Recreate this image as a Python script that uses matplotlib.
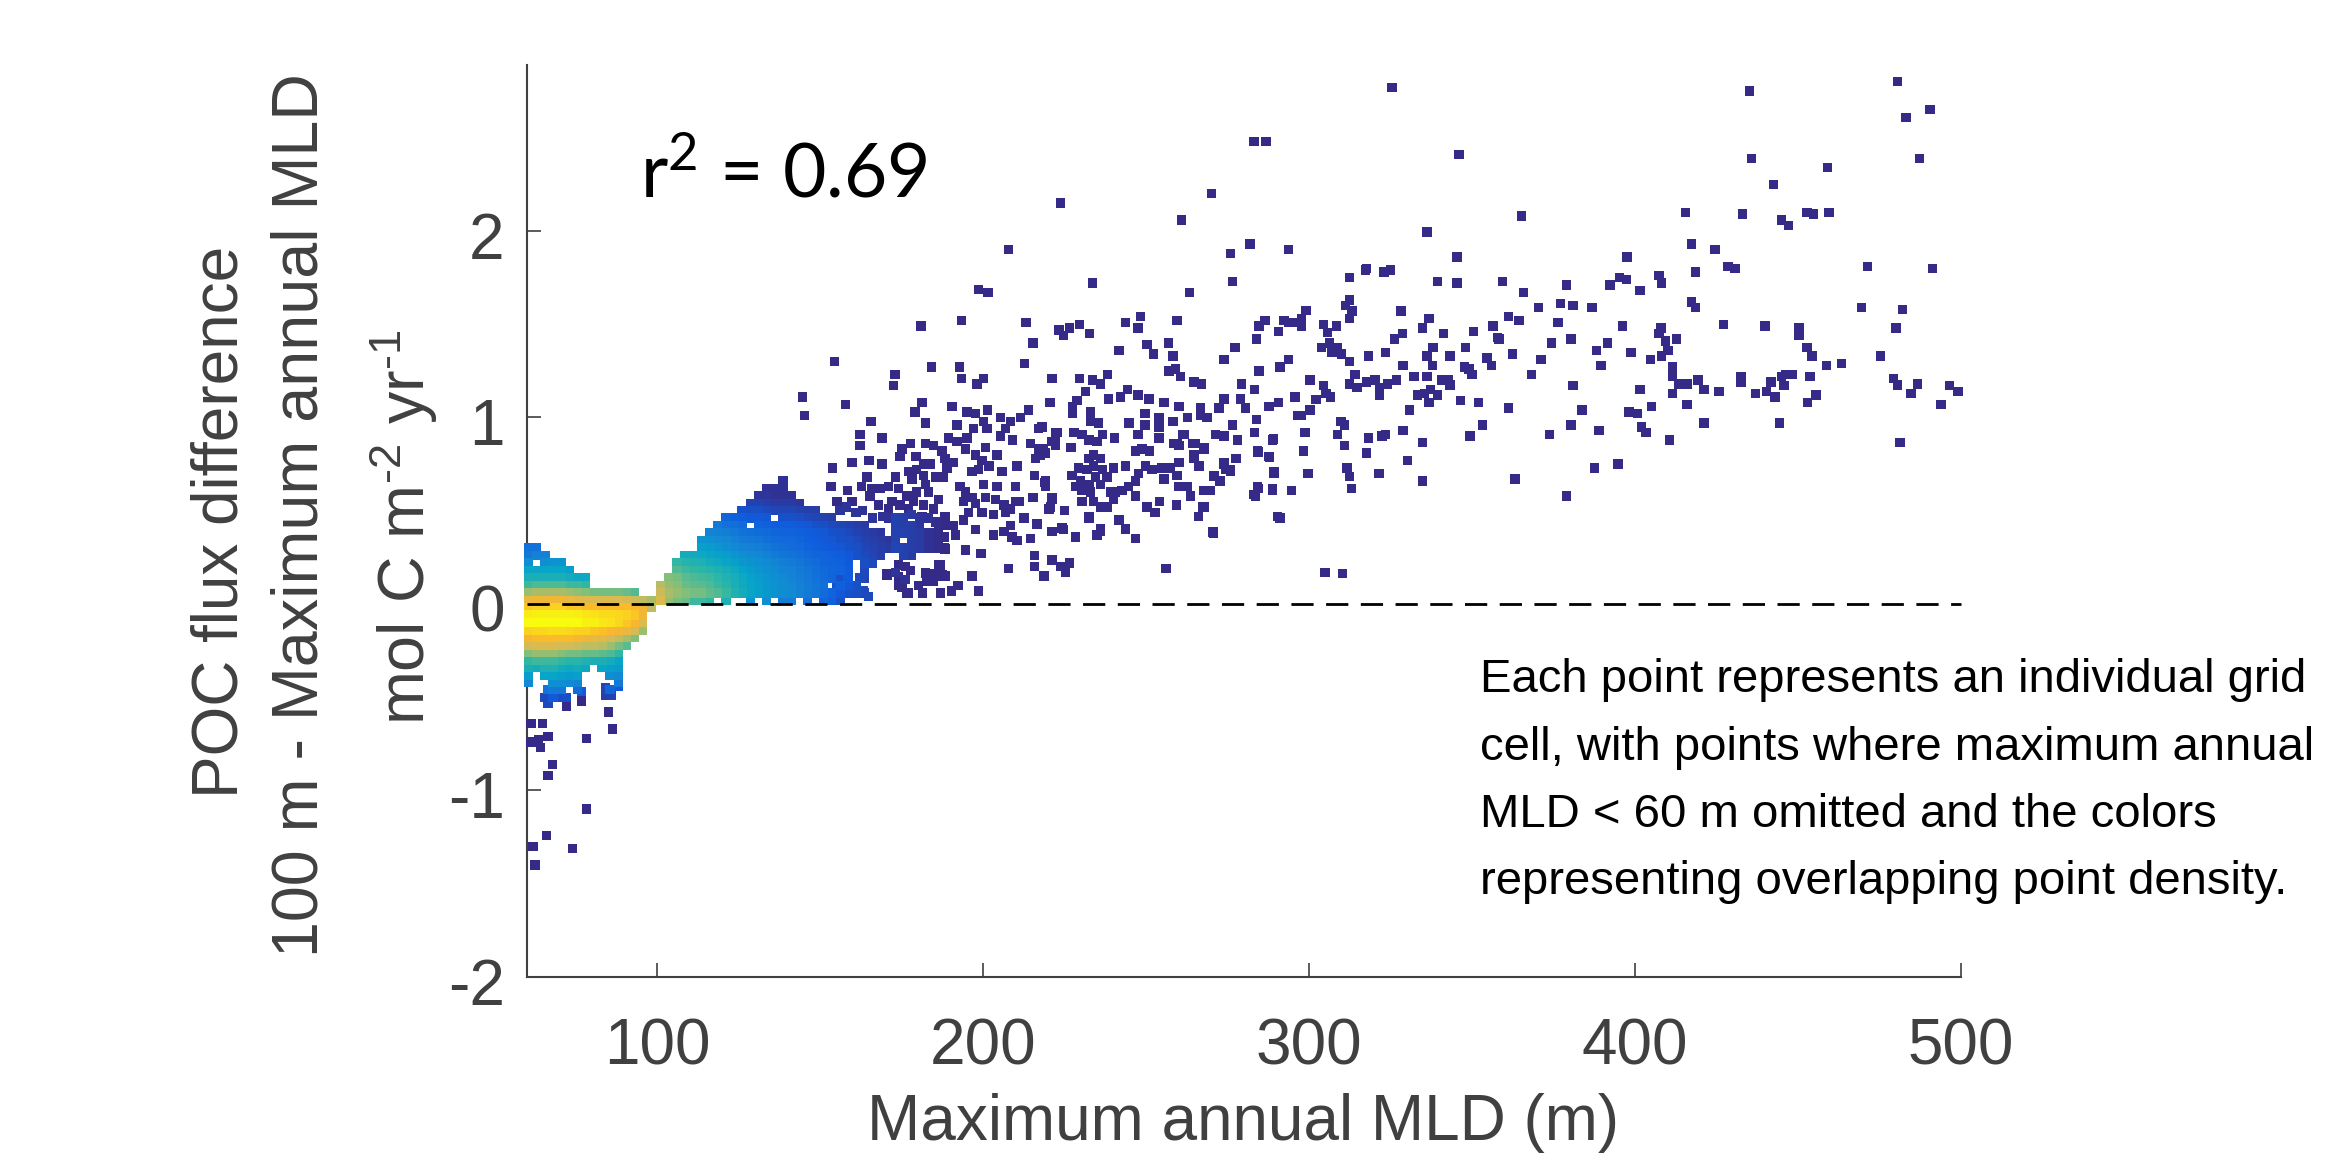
import matplotlib
matplotlib.use("Agg")
import matplotlib.pyplot as plt
import numpy as np
from matplotlib.colors import LinearSegmentedColormap
from matplotlib.transforms import ScaledTranslation

# Points as (max annual MLD, flux difference)
# negative outliers below the left blob
low_outliers = [(61.2,-.64),(64.7,-.64),(61.2,-.74),(63.5,-.73),(64.2,-.77),(66.5,-.71),(78.3,-.72),(86.3,-.67),(85,-.58),
    (67.9,-.86),(66.5,-.92),(78.3,-1.10),(65.9,-1.24),(61.9,-1.30),(73.9,-1.31),(62.5,-1.40),(72.2,-.55),(76.8,-.52)]

# scatter for MLD above 297 m
deep_points = [(325.4,2.77),(435.1,2.75),(480.6,2.80),(490.5,2.65),(483.1,2.61),(487.2,2.39),(435.8,2.39),(346,2.41),(459,2.34),
    (442.4,2.25),(415.4,2.10),(433,2.09),(445,2.06),(447,2.03),(452.8,2.10),(454.8,2.09),(459.5,2.10),(365.2,2.08),(336.1,1.995),
    (417.3,1.93),(424.5,1.90),(345.3,1.86),(397.5,1.86),(471.3,1.81),(491.2,1.80),(428.5,1.81),(430.6,1.80),(418.6,1.78),(407.3,1.76),
    (408.1,1.72),(395.3,1.75),(397.4,1.74),(392.3,1.71),(401.5,1.68),(379,1.71),(359.3,1.73),(365.7,1.67),(345.3,1.72),(339.3,1.73),
    (312.3,1.75),(317.2,1.79),(317.5,1.80),(323,1.78),(324.9,1.79),(312.3,1.63),(311.2,1.60),(313.1,1.57),(312.3,1.53),(299,1.575),
    (297.6,1.53),(297.6,1.49),(328.2,1.57),(336.7,1.53),(334.7,1.48),(328.7,1.45),(326.1,1.42),(341.2,1.45),(350.4,1.46),(356.4,1.49),
    (361.2,1.54),(364.4,1.52),(370.4,1.59),(377.1,1.61),(380.9,1.60),(386.8,1.59),(376.3,1.51),(357.8,1.43),(358.3,1.42),(374.4,1.40),
    (380.3,1.42),(391.5,1.40),(388.2,1.36),(398.8,1.35),(396.2,1.49),(408,1.48),(407.4,1.45),(409.3,1.41),(410.1,1.36),(412.7,1.42),
    (408.1,1.33),(404.7,1.31),(417.3,1.62),(418.6,1.59),(427.1,1.50),(439.8,1.49),(450.3,1.48),(450.3,1.44),(452.8,1.375),(454.3,1.33),
    (458.8,1.28),(463.3,1.29),(469.4,1.59),(482,1.58),(480,1.48),(475.3,1.33),(479.2,1.21),(480.6,1.175),(484.6,1.13),(486.6,1.18),
    (496.5,1.17),(499.1,1.14),(493.8,1.07),(481.3,.865),(444.3,.97),(453.7,1.22),(455.5,1.12),(452.9,1.08),(445.7,1.17),(448.3,1.23),
    (446.3,1.23),(445,1.22),(441.7,1.19),(440.3,1.14),(442.9,1.11),(437,1.13),(432.5,1.22),(432.5,1.19),(425.8,1.14),(421.1,1.15),
    (419.3,1.20),(415.9,1.18),(413.4,1.18),(411.4,1.27),(411.4,1.22),(411.4,1.13),(415.9,1.07),(421.1,.97),(410.6,.88),(405.1,1.06),
    (400.8,1.02),(398.1,1.03),(401.5,1.15),(401.9,.95),(403.4,.92),(388.9,.93),(380.3,.96),(373.7,.91),(383.7,1.04),(381,1.17),
    (389.6,1.28),(371.1,1.31),(362.4,1.34),(368.3,1.23),(361.2,1.05),(354.5,1.32),(355.9,1.28),(347.9,1.375),(343.2,1.33),(338,1.375),
    (336.1,1.33),(337.8,1.28),(328.8,1.28),(323.5,1.35),(318.2,1.33),(312.3,1.30),(310,1.34),(308.6,1.375),(306.2,1.40),(303.8,1.375),
    (307,1.35),(308.3,1.49),(304.4,1.50),(305.7,1.455),(300.3,1.20),(304.4,1.17),(305.1,1.13),(306.5,1.11),(302.1,1.095),(300.3,1.04),
    (297.6,1.01),(314,1.23),(312.3,1.18),(314.7,1.16),(317.5,1.19),(320.2,1.20),(321.6,1.16),(321.6,1.12),(324,1.18),(326.8,1.20),
    (332.1,1.22),(336.1,1.22),(340.8,1.20),(342.8,1.20),(343.2,1.175),(339.4,1.12),(337.3,1.15),(335.3,1.13),(333.2,1.12),(336.7,1.08),
    (330.8,1.04),(346.5,1.09),(351.9,1.08),(347.6,1.27),(349,1.26),(350,1.23),(309.8,.98),(310.9,.96),(298.7,.92),(308.6,.91),
    (310.9,.85),(318.2,.89),(322.3,.90),(323.5,.91),(328.8,.93),(334.7,.865),(349.3,.90),(353.2,.96),(298.3,.82),(317.5,.81),
    (330.1,.77),(311.6,.73),(312.3,.685),(312.9,.62),(299.6,.70),(321.4,.70),(334.7,.66),(363.1,.67),(379,.58),(387.5,.73),
    (394.8,.75),(304.9,.17),(310.2,.165)]

# scatter for MLD 143-297 m, upper and outer part
mid_points = [(283.1,2.48),(286.7,2.48),(270,2.20),(223.7,2.15),(260.8,2.06),(207.8,1.90),(275.9,1.88),(281.8,1.93),(293.6,1.90),
    (233.6,1.72),(276.5,1.73),(263.3,1.67),(198.6,1.685),(201.5,1.67),(180.9,1.49),(193.3,1.52),(213.1,1.51),(243.7,1.51),(248.2,1.54),
    (247.5,1.48),(259.4,1.52),(229.6,1.50),(226.4,1.48),(223.2,1.47),(224.7,1.44),(232.6,1.45),(286.5,1.52),(284.6,1.49),(283.9,1.42),
    (290.6,1.46),(292.3,1.52),(293.8,1.51),(296.4,1.51),(215.2,1.40),(277.2,1.375),(273.9,1.31),(256.8,1.40),(258.2,1.33),(250.2,1.39),
    (252.2,1.34),(241.6,1.36),(154.4,1.30),(212.6,1.29),(184.1,1.27),(192.7,1.27),(193.3,1.21),(200.1,1.21),(198.1,1.18),(172.9,1.23),
    (172.4,1.17),(221.1,1.21),(229.6,1.21),(233.6,1.20),(236,1.18),(238.2,1.23),(257,1.25),(259,1.26),(260.5,1.22),(264.6,1.19),
    (266.9,1.18),(284.6,1.25),(291.1,1.27),(293.6,1.31),(279.2,1.18),(283.3,1.15),(295.7,1.11),(144.5,1.11),(145.1,1.01),(157.7,1.07),
    (165.6,.98),(181.2,1.08),(179.1,1.03),(182.2,.97),(190.4,1.06),(231.4,1.14),(228.8,1.09),(227.3,1.06),(227.3,1.02),(220.5,1.08),
    (238.5,1.10),(242.1,1.11),(244.2,1.15),(247.5,1.12),(250.8,1.10),(255.4,1.08),(260,1.06),(266.7,1.05),(273.9,1.10),(272.3,1.05),
    (279,1.10),(280.5,1.05),(287.7,1.06),(290.6,1.08),(283.9,.99),(296.4,1.01),(276.4,.96),(266.7,1.01),(262.6,1.0),(268.7,1.0),
    (258.2,.98),(253.9,1.0),(253.9,.95),(249.5,1.02),(249.5,.96),(244.7,.97),(247.5,.91),(253.9,.89),(261.6,.91),(259.5,.86),
    (265.2,.86),(267.7,.83),(271.3,.91),(273.9,.90),(278,.88),(283.3,.92),(288.7,.88),(284.3,.815),(287.9,.785),(277.4,.78),
    (273.9,.75),(275.9,.72),(270.8,.685),(272.5,.66),(289.2,.70),(284.3,.62),(283.1,.586),(288.7,.61),(294.5,.61),(291.1,.46),
    (270.6,.38),(256.1,.19),(267.7,.61),(267.7,.52),(266,.47),(259.3,.53),(254.1,.55),(250.3,.52),(252.7,.49),(246.7,.35),
    (241.6,.45),(243.7,.40),(236,.39),(235,.37),(232.4,.46),(228.3,.36),(224.7,.40),(221.1,.39),(216.4,.43),(214.5,.35),
    (225,.50),(221.1,.57),(220.6,.52),(215.3,.57),(212.6,.46),(215.8,.26),(215.8,.20),(218.6,.15),(221.1,.235),(223.7,.20),
    (225.2,.17),(226.4,.22),(207.8,.19),(199.2,.27),(194.5,.29),(196.5,.15),(198.6,.07),(192.2,.10),(190.2,.07),(186.8,.06),
    (181.4,.06),(176.6,.06),(186.8,.21),(187.3,.155),(184.8,.165),(182.2,.165),(184.8,.12),(180.2,.10),(174,.145),(170.4,.155),
    (176.1,.20),(174,.10)]

# cluster around 160-225 m
cluster_a = [(174.5,.79),(175,.83),(177.6,.86),(182.2,.86),(184.8,.85),(187.3,.82),(188.3,.78),(190.9,.76),(188.9,.73),(179.3,.79),
    (181.7,.75),(183.7,.75),(179.6,.72),(177.1,.71),(181.7,.69),(178.1,.67),(182.2,.64),(185.3,.68),(187.8,.68),(179.6,.60),
    (183.2,.60),(186.3,.56),(178.6,.55),(181.7,.53),(184.8,.51),(188.3,.47),(181.2,.47),(164.3,.68),(162.7,.63),(165.8,.62),
    (165.3,.58),(168.4,.62),(170.9,.63),(173,.68),(174,.62),(176.6,.58),(172,.55),(167.9,.53),(170.9,.51),(174.5,.53),(177.1,.51),
    (159.7,.76),(165,.77),(168.9,.75),(153.7,.73),(158.3,.61),(153.3,.63),(155.1,.55),(159.7,.55),(162.2,.91),(162.2,.85),(168.9,.89),
    (195,1.03),(201.3,1.04),(197.6,1.02),(200.1,.98),(205.2,1.0),(201.1,.94),(208.3,.98),(211.4,1.0),(213.9,1.04),(206.8,.94),
    (205.2,.90),(209,.88),(191.9,.96),(197,.94),(195,.89),(189.4,.89),(191.9,.87),(194.5,.83),(197.6,.80),(200.6,.84),(204.2,.80),
    (199.6,.77),(201.7,.74),(198.6,.72),(196.5,.71),(205.7,.71),(200.1,.64),(204.2,.63),(192.9,.63),(194.5,.60),(196.5,.57),
    (200.6,.57),(203.7,.56),(194,.55),(197.6,.54),(206.3,.53),(209.8,.55),(210.9,.55),(208.3,.51),(195.5,.49),(199.6,.49),(203.2,.48),
    (206.8,.49),(210.4,.74),(215.8,.69),(209.8,.63),(215.2,.57),(219.1,.66),(219.1,.63),(221.1,.56),(220.1,.51),(212.4,.46),(216.5,.43),
    (225,.50),(220.9,.39),(224.2,.41),(214.5,.86),(217,.83),(216,.78),(219.1,.81),(222.1,.87),(217,.94),(222.6,.92),(214.5,.35),
    (208.8,.36),(210.4,.34),(208.3,.42),(206.3,.39),(203.2,.37),(197.6,.40),(194,.45),(190.9,.42),(191.4,.37),(188.3,.295),(194.5,.29),
    (199.4,.27),(186.3,.41),(186.3,.35),(188.3,.15),(186.3,.21),(185.3,.15),(182.2,.17),(182.7,.12),(177.1,.06),(175,.09),(177.6,.18),
    (174,.13),(170.4,.16),(174,.21)]

# cluster around 217-290 m
cluster_b = [(233.9,.80),(232.4,.78),(235.9,.78),(233.9,.74),(231.8,.72),(236.5,.72),(229.3,.73),(227.2,.69),(229.8,.66),(228.3,.63),
    (232.4,.64),(238,.68),(234.4,.68),(230.3,.61),(232.9,.60),(235.9,.64),(239,.60),(240,.56),(230.3,.55),(233.9,.55),(235.9,.52),
    (238,.52),(240,.73),(243.6,.74),(236.5,.91),(234.9,.87),(232.4,.88),(227.8,.92),(230.3,.91),(232.9,1.03),(232.9,.98),(235.4,.97),
    (240.3,.89),(244.9,.97),(249.6,1.02),(249.6,.96),(247.5,.91),(254.1,.99),(254.1,.96),(254.1,.89),(258.1,.98),(261.2,.91),(258.5,.86),
    (260,.85),(246.7,.82),(248.7,.83),(251,.82),(249.8,.74),(247.7,.70),(251.8,.72),(254.9,.73),(257.4,.73),(260,.76),(246.7,.66),
    (244.6,.63),(242.6,.61),(246.7,.58),(240.6,.60),(255.4,.67),(259.5,.69),(260,.63),(262.6,.63),(263.6,.58),(267.7,.61),(269.7,.61),
    (254.1,.55),(250,.52),(252.8,.49),(259.3,.53),(267.2,.52),(266,.47),(270.5,.385),(264.3,.86),(264.6,.80),(264.6,.78),(266.2,.74),
    (267.7,.84),(273.8,.76),(274.3,.72),(275.9,.71),(270.8,.69),(272.8,.66),(277.6,.78),(284.1,.82),(287.7,.79),(289,.885),(289.2,.71),
    (284.1,.63),(283.6,.58),(288.7,.62),(290.2,.47),(232.4,.47),(241.6,.45),(243.6,.405),(235.9,.405),(234.9,.37),(228.3,.36),(224.2,.405),
    (220.9,.39),(225,.50),(220.3,.51),(221.1,.56),(219,.65),(222.1,.92),(221.1,.87),(222.1,.85),(218,.95),(218.5,.83),(217.5,.80),(226.9,.84)]

# blue fringe between the right blob and the clusters and under the left blob: (x, y, density %)
fringe_points = [(173,.46,6),(173,.42,6),(173,.38,6),(173,.34,6),(173,.30,7),(175.5,.46,5),(175.5,.42,5),(175.5,.38,6),(175.5,.30,6),(175.5,.26,6),
    (178,.48,4),(178,.42,5),(178,.38,5),(178,.34,5),(178,.30,5),(178,.26,4),(180.5,.46,3),(180.5,.42,3),(180.5,.38,4),(180.5,.34,4),(180.5,.30,4),
    (183,.46,2),(183,.38,2),(183,.34,2),(183,.30,2),(185.5,.44,1),(185.5,.38,1),(185.5,.34,1),(185.5,.30,1),(188,.42,0),(188,.36,0),(188,.30,0),
    (156,.50,3),(158,.52,3),(161,.49,3),(163,.50,2),(166,.46,3),(169,.47,2),(171,.46,2),(164.8,.04,8),(163.3,.07,8),(162.2,.14,8),(158.1,.06,9),
    (155.6,.14,10),(155.1,.10,10),(173,.17,3),(176,.13,2),(84,-.49,5),(86,-.46,6),(84,-.45,7),(66.5,-.53,8),(72.2,-.50,10),
    (66.5,-.46,20),(69,-.49,10),(71,-.50,8),(76.8,-.47,12),(86,-.49,6),(88,-.44,12)]

# dense blob left of 100 m: density % per grid cell, 0 = no point
left_x = [60.5,63,65.5,68,70.5,73,75.5,78,80.5,83,85.5,88,90.5,93,95.5,98]
left_y = [.30,.26,.22,.18,.14,.10,.06,.02,-.02,-.06,-.10,-.14,-.18,-.22,-.26,-.30,-.34,-.38,-.42,-.46,-.50]
left_density = [
    [20,20,0,0,0,0,0,0,0,0,0,0,0,0,0,0],
    [22,25,25,0,0,0,0,0,0,0,0,0,0,0,0,0],
    [30,0,30,32,32,0,0,0,0,0,0,0,0,0,0,0],
    [38,38,38,38,38,35,0,0,0,0,0,0,0,0,0,0],
    [44,44,44,44,44,42,40,40,0,0,0,0,0,0,0,0],
    [52,54,54,54,54,52,52,50,0,0,0,0,0,0,0,0],
    [66,68,68,68,68,66,64,62,60,60,60,60,58,55,0,0],
    [82,84,84,84,84,82,80,78,78,78,78,78,76,74,72,68],
    [90,92,92,92,92,90,90,88,88,88,88,88,88,86,84,72],
    [97,98,98,98,98,98,97,96,95,94,94,93,92,90,84,0],
    [100,100,100,100,100,100,100,98,98,96,95,93,90,86,78,0],
    [92,93,93,94,94,93,92,92,90,89,87,85,82,76,66,0],
    [86,88,88,88,88,88,86,84,82,80,76,72,68,62,0,0],
    [76,78,78,78,76,76,74,72,72,70,66,60,56,0,0,0],
    [62,65,65,65,62,60,60,58,58,56,54,50,0,0,0,0],
    [50,52,52,52,50,48,48,46,44,44,42,38,0,0,0,0],
    [44,42,45,45,42,40,42,40,0,38,36,34,0,0,0,0],
    [36,0,38,38,36,34,36,0,0,0,30,28,0,0,0,0],
    [28,0,0,30,30,28,26,0,0,0,0,22,0,0,0,0],
    [0,0,0,22,22,0,18,0,0,0,16,0,0,0,0,0],
    [0,0,8,12,0,0,0,0,0,0,0,0,0,0,0,0]]

# dense blob right of 100 m
right_x = [101,103.5,106,108.5,111,113.5,116,118.5,121,123.5,126,128.5,131,133.5,136,138.5,141,143.5,146,148.5,151,153.5,156,158.5,161,163.5,166,168.5,171]
right_y = [.66,.62,.58,.54,.50,.46,.42,.38,.34,.30,.26,.22,.18,.14,.10,.06,.02]
right_density = [
    [0,0,0,0,0,0,0,0,0,0,0,0,0,0,0,2,0,0,0,0,0,0,0,0,0,0,0,0,0],
    [0,0,0,0,0,0,0,0,0,0,0,0,0,2,2,2,0,0,0,0,0,0,0,0,0,0,0,0,0],
    [0,0,0,0,0,0,0,0,0,0,0,0,3,3,2,2,2,0,0,0,0,0,0,0,0,0,0,0,0],
    [0,0,0,0,0,0,0,0,0,0,0,6,6,5,4,4,4,3,0,0,0,0,0,0,0,0,0,0,0],
    [0,0,0,0,0,0,0,0,0,0,10,9,9,8,7,7,7,6,5,5,0,0,0,0,0,0,0,0,0],
    [0,0,0,0,0,0,0,0,16,14,13,12,12,11,0,10,10,9,8,7,6,5,0,0,0,0,0,0,0],
    [0,0,0,0,0,0,0,22,20,19,17,0,15,14,13,13,13,12,11,10,9,8,7,6,5,4,0,0,0],
    [0,0,0,0,0,0,26,25,24,22,20,19,18,17,16,15,15,14,13,12,11,10,9,8,6,5,4,3,0],
    [0,0,0,0,0,32,31,29,28,25,23,22,21,19,18,17,17,16,14,13,12,11,10,9,8,6,5,4,3],
    [0,0,0,0,0,36,35,33,30,28,26,25,24,22,20,19,18,17,15,14,13,12,11,10,9,7,6,5,4],
    [0,0,0,42,41,40,38,37,35,32,30,28,27,25,23,21,20,19,17,16,15,14,13,12,10,8,7,5,0],
    [0,0,50,47,46,45,42,41,38,36,33,31,30,28,26,24,23,21,19,18,16,15,14,12,0,9,8,0,0],
    [0,0,55,52,50,49,47,45,43,40,37,34,32,30,28,26,25,23,21,19,17,16,15,13,0,8,0,0,0],
    [0,62,60,56,54,53,52,49,46,43,40,37,34,32,30,28,26,24,22,20,18,16,0,13,0,7,0,0,0],
    [70,65,62,58,57,56,54,51,48,44,41,38,36,33,31,29,27,25,23,21,19,0,14,11,10,0,0,0,0],
    [74,68,65,62,60,60,57,55,51,46,42,38,36,33,31,29,28,25,23,21,18,15,12,10,9,6,0,0,0],
    [78,65,60,58,52,52,50,0,45,0,0,32,0,30,0,24,24,0,20,0,16,14,10,0,0,0,0,0,0]]

x_ticks = [100, 200, 300, 400, 500]
y_ticks = [-2, -1, 0, 1, 2]
y_tick_labels = ["-2", "-1", "0", "1", "2"]
note_lines = ["Each point represents an individual grid",
              "cell, with points where maximum annual",
              "MLD < 60 m omitted and the colors",
              "representing overlapping point density."]

# parula-like colour steps
parula = LinearSegmentedColormap.from_list("parula", ["#352A87", "#0F5CDD", "#1481D6", "#06A4CA", "#2EB7A4",
                                                       "#87BF77", "#D1BB59", "#FBB62C", "#F9FB0E"])

plt.rcParams["font.family"] = ["Liberation Sans", "DejaVu Sans"]
plt.rcParams["mathtext.fontset"] = "custom"
plt.rcParams["mathtext.rm"] = "Liberation Sans"
plt.rcParams["mathtext.default"] = "regular"

W, H = 2339, 1155
fig = plt.figure(figsize=(W / 100, H / 100), dpi=100)
ax = fig.add_axes([527 / W, 1 - 977 / H, (1961 - 527) / W, (977 - 65) / H])

# gather everything with its density, low density drawn first
xs, ys, ds = [], [], []
for pts in [low_outliers, deep_points, mid_points, cluster_a, cluster_b]:
    for px, py in pts:
        xs.append(px); ys.append(py); ds.append(0)
for px, py, pd_ in fringe_points:
    xs.append(px); ys.append(py); ds.append(pd_)
for grid_x, grid_y, grid in [(left_x, left_y, left_density), (right_x, right_y, right_density)]:
    for j, row in enumerate(grid):
        for i, val in enumerate(row):
            if val > 0:
                xs.append(grid_x[i]); ys.append(grid_y[j]); ds.append(val)
xs, ys, ds = np.array(xs), np.array(ys), np.array(ds)
order = np.argsort(ds)

ax.scatter(xs[order], ys[order], c=ds[order], cmap=parula, vmin=0, vmax=100, s=46, marker="s",
           linewidths=0, clip_on=False, zorder=3)
ax.plot([60, 500], [0, 0], color="black", lw=2, dashes=(8, 4.5), zorder=4, clip_on=False)

ax.set_xlim(60, 500)
ax.set_ylim(-2, 2.89)
for side in ["top", "right"]:
    ax.spines[side].set_visible(False)
for side in ["left", "bottom"]:
    ax.spines[side].set_color("#404040")
    ax.spines[side].set_linewidth(1.5)
ax.set_xticks(x_ticks)
ax.set_yticks(y_ticks)
ax.set_yticklabels(y_tick_labels)
ax.tick_params(direction="in", length=10, width=1.2, color="#404040", labelcolor="#404040", labelsize=46)
ax.tick_params(axis="x", pad=29)
ax.tick_params(axis="y", pad=16)
# y tick labels sit a little under their ticks in the reference
for lab in ax.get_yticklabels():
    lab.set_transform(lab.get_transform() + ScaledTranslation(0, -3.2 / 72, fig.dpi_scale_trans))

fig.text(1243 / W, 1 - 1123 / H, "Maximum annual MLD (m)", fontsize=46, color="#404040", ha="center", va="center")
fig.text(221 / W, 1 - 522 / H, "POC flux difference", fontsize=46, color="#404040", rotation=90, ha="center", va="center")
fig.text(300 / W, 1 - 515 / H, "100 m - Maximum annual MLD", fontsize=46.5, color="#404040", rotation=90, ha="center", va="center")
fig.text(403 / W, 1 - 527 / H, "mol C m$^{\u20102}$ yr$^{\u20101}$", fontsize=46.5, color="#404040", rotation=90, ha="center", va="center")

fig.text(640 / W, 1 - 176 / H, r"r$^{2}$ = 0.69", fontsize=54, family="Lato", color="black", va="center")

for k, line in enumerate(note_lines):
    fig.text(1480 / W, 1 - (680 + k * 67.5) / H, line, fontsize=34, color="black", va="center")

fig.savefig("out.png", dpi=100)
